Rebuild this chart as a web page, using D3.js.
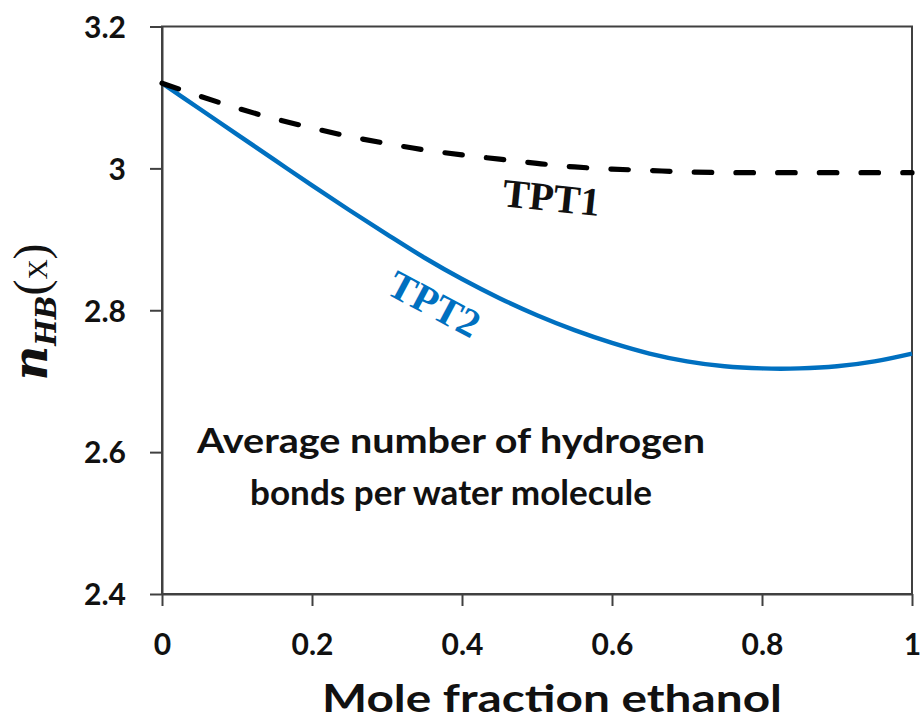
<!DOCTYPE html>
<html><head><meta charset="utf-8">
<script src="https://cdn.jsdelivr.net/npm/d3@7"></script>
<style>body{margin:0;background:#fff;} svg{display:block;}</style>
</head><body><svg id="c" width="924" height="722"></svg>
<script>
// ---- data ----
const molFraction = [0,0.05,0.1,0.15,0.2,0.25,0.3,0.35,0.4,0.45,0.5,0.55,0.6,0.65,0.7,0.75,0.8,0.85,0.9,0.95,1];
const tpt1 = [3.120,3.102,3.085,3.070,3.057,3.045,3.035,3.026,3.019,3.013,3.007,3.002,2.999,2.997,2.995,2.994,2.994,2.994,2.994,2.994,2.994];
const tpt2 = [3.120,3.084,3.048,3.012,2.976,2.941,2.907,2.874,2.844,2.817,2.793,2.772,2.754,2.739,2.728,2.721,2.718,2.718,2.721,2.728,2.739];
const xTicks = [0,0.2,0.4,0.6,0.8,1];
const xTickLabels = ["0","0.2","0.4","0.6","0.8","1"];
const yTicks = [2.4,2.6,2.8,3.0,3.2];
const yTickLabels = ["2.4","2.6","2.8","3","3.2"];
const seriesNames = ["TPT1","TPT2"];
const xTitle = "Mole fraction ethanol";
const noteLines = ["Average number of hydrogen","bonds per water molecule"];

// ---- layout ----
const svg = d3.select("#c");
const axisColor = "#404040";
const x = d3.scaleLinear().domain([0,1]).range([162,912]);
const y = d3.scaleLinear().domain([2.4,3.2]).range([594,26.5]);
const font = "Lato, 'Open Sans', sans-serif";

// frame
svg.append("rect")
  .attr("x", x(0)).attr("y", y(3.2))
  .attr("width", x(1)-x(0)).attr("height", y(2.4)-y(3.2))
  .attr("fill","none").attr("stroke",axisColor).attr("stroke-width",2);

// y axis
const yAxis = svg.append("g").attr("transform",`translate(${x(0)},0)`)
  .call(d3.axisLeft(y).tickValues(yTicks).tickFormat((d,i)=>yTickLabels[i]).tickSize(12).tickSizeOuter(0).tickPadding(24));
yAxis.select(".domain").attr("stroke",axisColor).attr("stroke-width",2);
yAxis.selectAll(".tick line").attr("stroke",axisColor).attr("stroke-width",2);
yAxis.selectAll(".tick text").attr("font-family",font).attr("font-weight","bold")
  .attr("font-size",30).attr("fill","#111").attr("dy","0.36em");

// x axis
const xAxis = svg.append("g").attr("transform",`translate(0,${y(2.4)})`)
  .call(d3.axisBottom(x).tickValues(xTicks).tickFormat((d,i)=>xTickLabels[i]).tickSize(12).tickSizeOuter(0));
xAxis.select(".domain").attr("stroke",axisColor).attr("stroke-width",2);
xAxis.selectAll(".tick line").attr("stroke",axisColor).attr("stroke-width",2);
xAxis.selectAll(".tick text").attr("font-family",font).attr("font-weight","bold")
  .attr("font-size",30).attr("fill","#111").attr("dy",null).attr("y",61);

// lines
const line = d3.line().x((d,i)=>x(molFraction[i])).y(d=>y(d)).curve(d3.curveCatmullRom.alpha(0.5));
svg.append("path").datum(tpt2).attr("d",line)
  .attr("fill","none").attr("stroke","#0070C0").attr("stroke-width",4.4);
svg.append("path").datum(tpt1).attr("d",line)
  .attr("fill","none").attr("stroke","#000").attr("stroke-width",5.2)
  .attr("stroke-dasharray","17.5,24.2").attr("stroke-linecap","round");

// series labels
svg.append("text").attr("transform","translate(550,211) rotate(6)")
  .attr("text-anchor","middle").attr("font-family","'Liberation Serif', serif")
  .attr("font-weight","bold").attr("font-size",40).attr("fill","#111").text(seriesNames[0]);
svg.append("text").attr("transform","translate(428,316) rotate(28)")
  .attr("text-anchor","middle").attr("font-family","'Liberation Serif', serif")
  .attr("font-weight","bold").attr("font-size",40).attr("fill","#0070C0").text(seriesNames[1]);

// note
svg.append("text").attr("x",451).attr("y",453).attr("text-anchor","middle")
  .attr("font-family",font).attr("font-weight","bold").attr("font-size",34).attr("fill","#111")
  .attr("textLength",508).attr("lengthAdjust","spacingAndGlyphs")
  .text(noteLines[0]);
svg.append("text").attr("x",451).attr("y",505).attr("text-anchor","middle")
  .attr("font-family",font).attr("font-weight","bold").attr("font-size",34).attr("fill","#111")
  .attr("textLength",402).attr("lengthAdjust","spacingAndGlyphs")
  .text(noteLines[1]);

// x title
svg.append("text").attr("x",552).attr("y",712).attr("text-anchor","middle")
  .attr("font-family",font).attr("font-weight","bold").attr("font-size",38).attr("fill","#111")
  .attr("textLength",460).attr("lengthAdjust","spacingAndGlyphs")
  .text(xTitle);

// y title: n_HB(X)
const yt = svg.append("text").attr("transform","translate(47,312) rotate(-90)")
  .attr("text-anchor","middle").attr("fill","#111");
yt.append("tspan").attr("font-family","'DejaVu Serif', serif").attr("font-style","italic")
  .attr("font-weight","bold").attr("font-size",48).text("n");
yt.append("tspan").attr("font-family","'DejaVu Serif', serif").attr("font-style","italic")
  .attr("font-weight","bold").attr("font-size",28).attr("dy",9).text("HB");
yt.append("tspan").attr("font-family","'Liberation Serif', serif").attr("font-size",48).attr("dy",-9).text("(");
yt.append("tspan").attr("font-family","'Liberation Serif', serif").attr("font-size",28).text("X");
yt.append("tspan").attr("font-family","'Liberation Serif', serif").attr("font-size",48).text(")");
</script></body></html>
